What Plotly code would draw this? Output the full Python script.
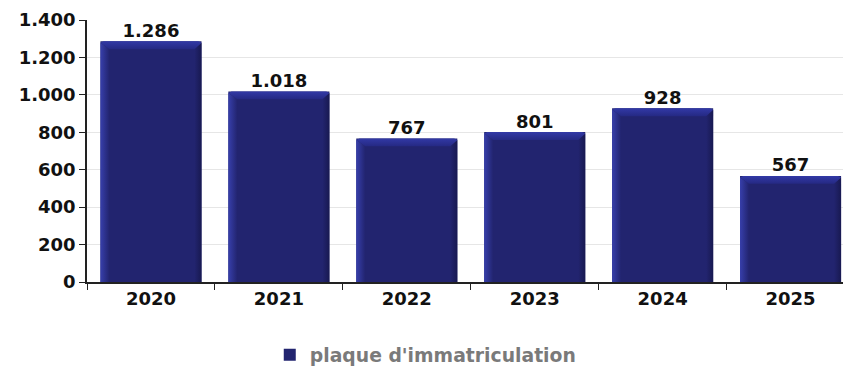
import plotly.graph_objects as go

years = ["2020", "2021", "2022", "2023", "2024", "2025"]
counts = [1286, 1018, 767, 801, 928, 567]
series_name = "plaque d'immatriculation"
y_ticks = [0, 200, 400, 600, 800, 1000, 1200, 1400]

FONT = "DejaVu Sans"
BODY = "#22246f"
HALF_W = 0.395        # half bar width in category units
SIDE_L = 0.07         # width of the lit left side
SIDE_R = 0.055        # width of the shaded right side
BEVEL = 42            # height of the top bevel in data units
CORNER = 8            # rounding of the top corners in data units

xs = list(range(len(years)))

fig = go.Figure()
fig.add_trace(go.Bar(
    x=xs, y=counts, name=series_name,
    width=2 * HALF_W,
    marker=dict(color=BODY, line=dict(width=0)),
    hoverinfo="x+y",
))

# bevelled sides and top of each bar, built from the bar's own value
for x, v in zip(xs, counts):
    xl, xr = x - HALF_W, x + HALF_W
    top = v - BEVEL
    fig.add_trace(go.Scatter(
        x=[xl, xl, xl + SIDE_L, xl + SIDE_L, xl],
        y=[0, v - CORNER, top, 0, 0],
        mode="lines", line=dict(width=0), fill="toself",
        fillgradient=dict(type="horizontal",
                          colorscale=[[0, "#373fab"], [1, BODY]]),
        hoverinfo="skip", showlegend=False,
    ))
    fig.add_trace(go.Scatter(
        x=[xr - SIDE_R, xr - SIDE_R, xr, xr, xr - SIDE_R],
        y=[0, top, v - CORNER, 0, 0],
        mode="lines", line=dict(width=0), fill="toself",
        fillgradient=dict(type="horizontal",
                          colorscale=[[0, BODY], [1, "#181951"]]),
        hoverinfo="skip", showlegend=False,
    ))
    fig.add_trace(go.Scatter(
        x=[xl, xl + 0.025, xr - 0.025, xr, xr - SIDE_R, xl + SIDE_L, xl],
        y=[v - CORNER, v, v, v - CORNER, top, top, v - CORNER],
        mode="lines", line=dict(width=0), fill="toself",
        fillgradient=dict(type="vertical",
                          colorscale=[[0, "#252983"], [1, "#3239a6"]]),
        hoverinfo="skip", showlegend=False,
    ))

# value labels sitting just above each bar
fig.add_trace(go.Scatter(
    x=xs, y=counts, mode="text",
    texttemplate="%{y:,}", textposition="top center",
    textfont=dict(family=FONT, size=18, color="#111111", weight="bold"),
    hoverinfo="skip", showlegend=False, cliponaxis=False,
))

fig.update_layout(
    width=843, height=366,
    margin=dict(l=87, r=0, t=20, b=84, autoexpand=False),
    paper_bgcolor="white", plot_bgcolor="white",
    separators=",.",
    font=dict(family=FONT, color="#111111"),
    showlegend=True,
    legend=dict(orientation="h", xref="container", x=0.32, xanchor="left",
                yref="paper", y=-0.279, yanchor="middle",
                font=dict(family=FONT, size=18.8, color="#7a7a7a", weight="bold")),
)
fig.update_xaxes(
    range=[-0.5, 5.41], tickvals=xs, ticktext=years, tickangle=0,
    showline=True, linecolor="#222222", linewidth=1.5,
    ticks="", ticklen=0,
    minor=dict(ticks="outside", tick0=0.5, dtick=1, ticklen=6,
               tickcolor="#222222", showgrid=False),
    tickfont=dict(family=FONT, size=18, color="#111111", weight="bold"),
    showgrid=False, zeroline=False,
)
fig.update_yaxes(
    range=[0, 1400], tickvals=y_ticks, tickformat=",",
    showline=True, linecolor="#222222", linewidth=1.5,
    ticks="outside", ticklen=6, tickcolor="#222222",
    tickfont=dict(family=FONT, size=18, color="#111111", weight="bold"),
    showgrid=True, gridcolor="#e6e6e6", gridwidth=1,
    zeroline=False,
)

fig.write_html("out.html")
